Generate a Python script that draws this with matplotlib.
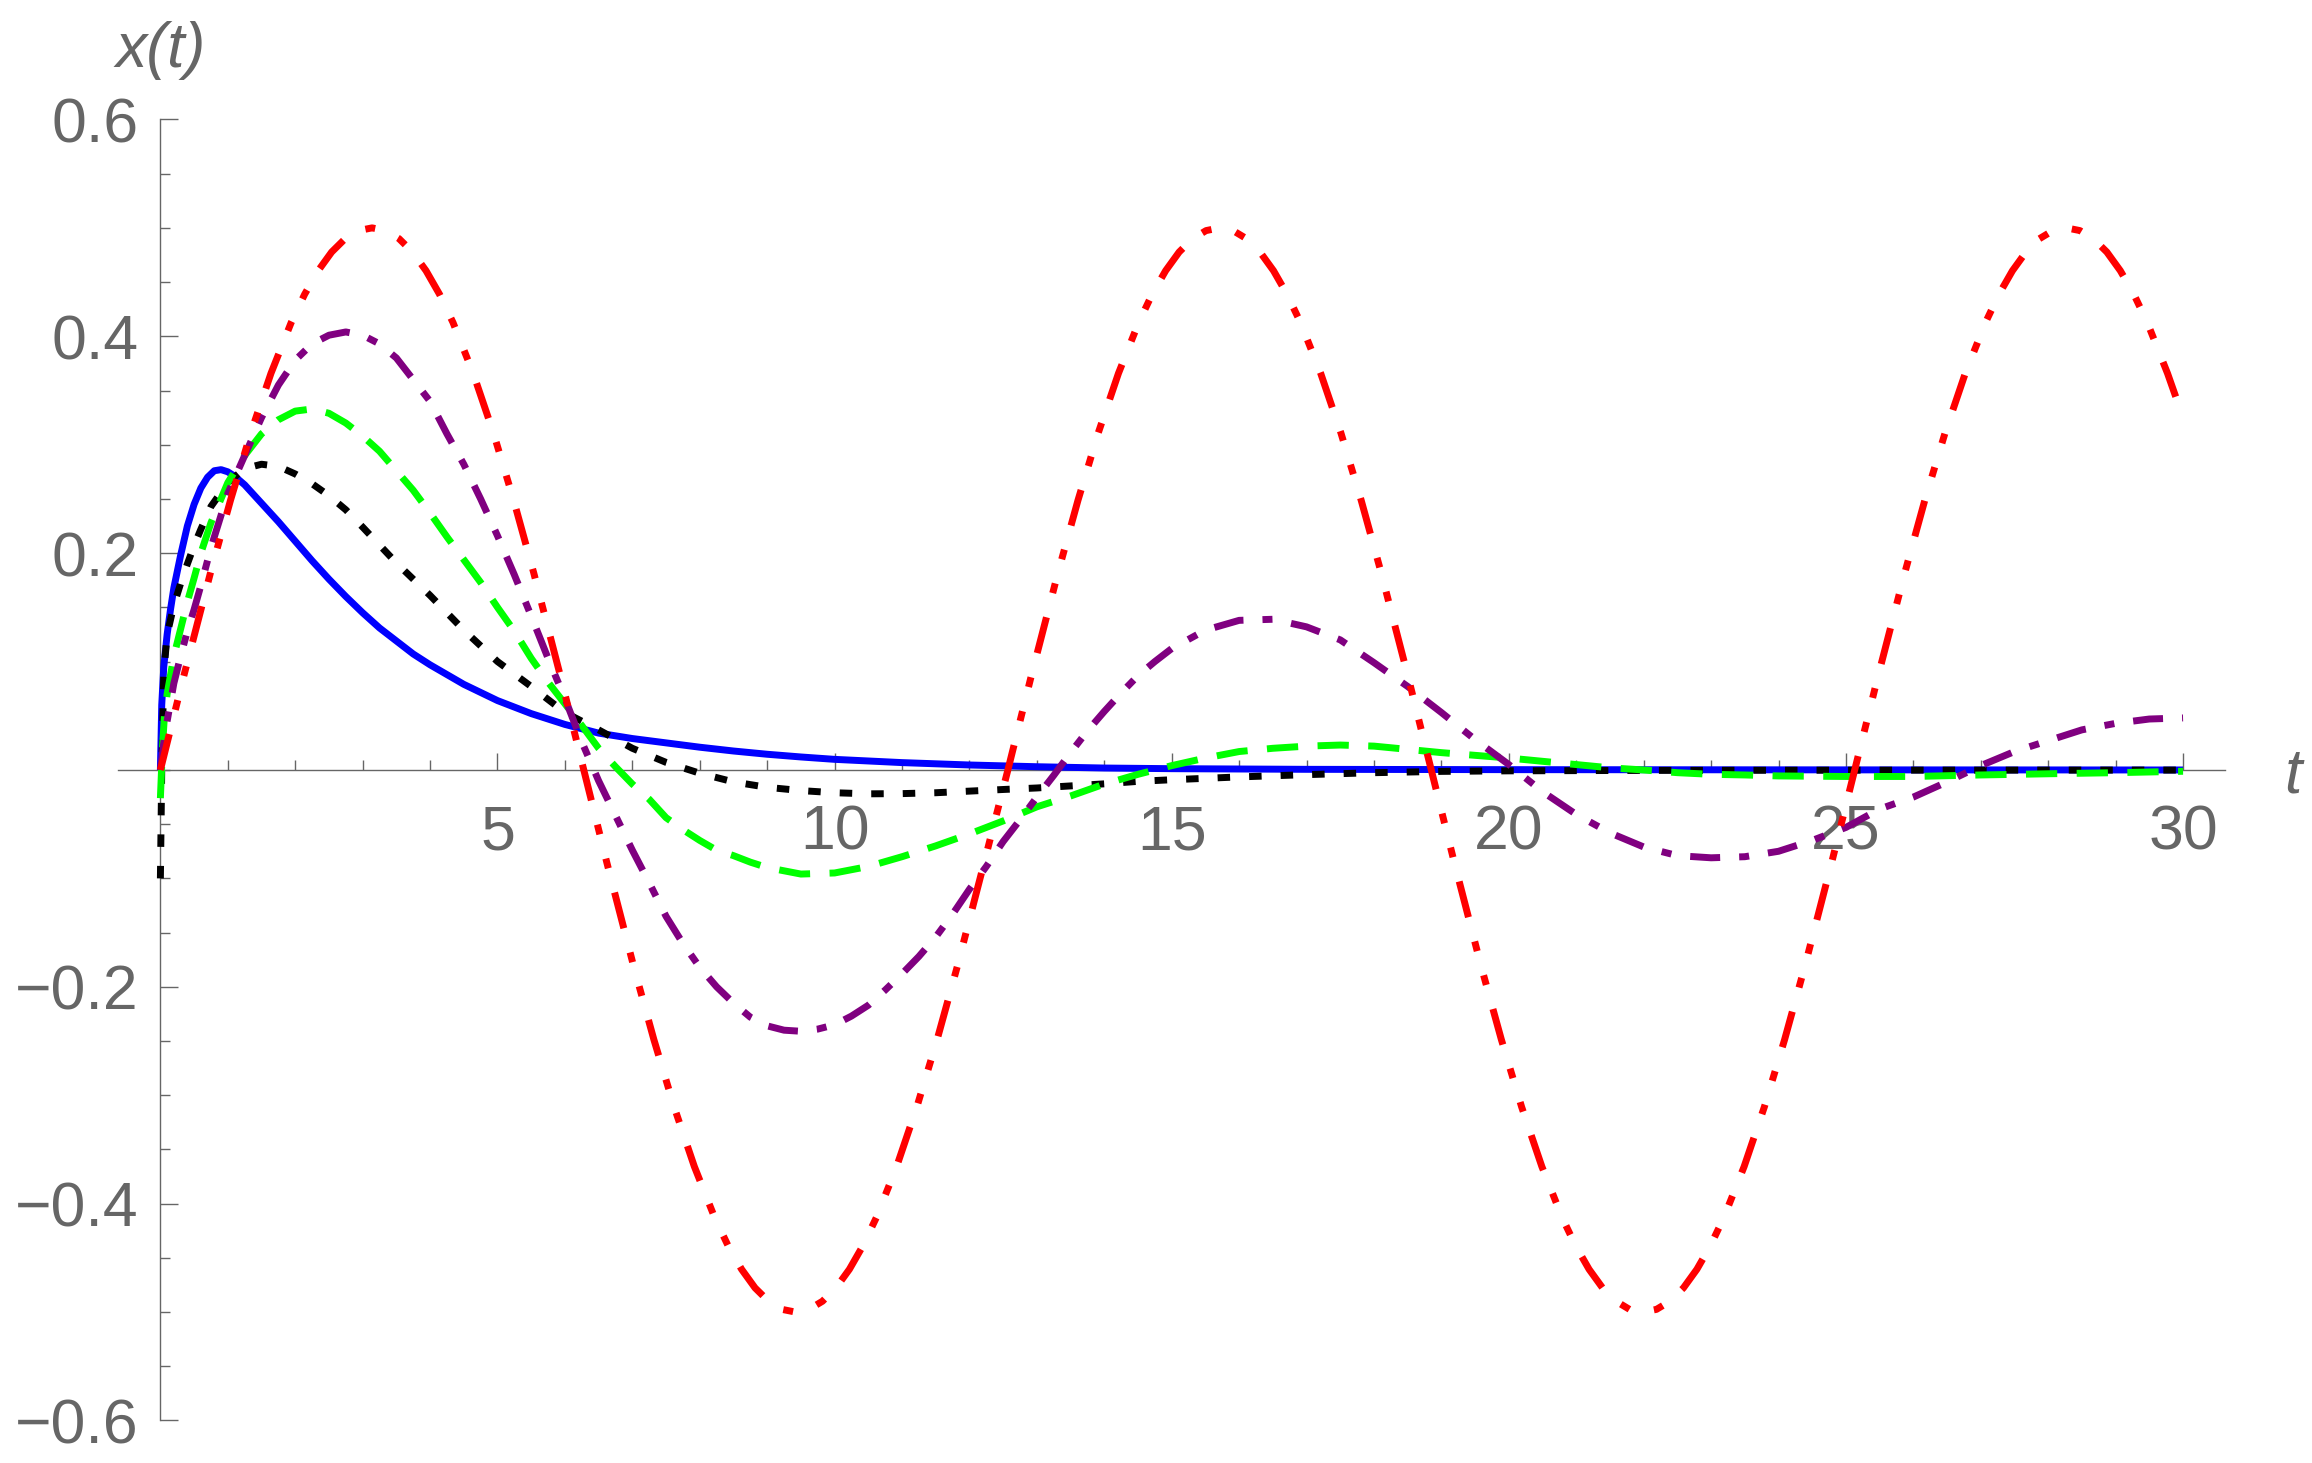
import matplotlib
matplotlib.use("Agg")
import matplotlib.pyplot as plt
from matplotlib.ticker import FixedLocator, MultipleLocator

# values
t_blue = [0, 0.02, 0.05, 0.1, 0.15, 0.2, 0.3, 0.4, 0.5, 0.6, 0.7, 0.8, 0.9, 1.0, 1.1, 1.25,
          1.5, 1.75, 2.0, 2.25, 2.5, 2.75, 3.0, 3.25, 3.5, 3.75, 4.0, 4.5, 5.0, 5.5, 6.0, 6.5,
          7.0, 7.5, 8.0, 8.5, 9.0, 9.5, 10, 11, 12, 13, 14, 15, 17, 20, 25, 30]
x_blue = [0, 0.06, 0.095, 0.125, 0.148, 0.168, 0.198, 0.225, 0.245, 0.26, 0.27, 0.276, 0.277,
          0.275, 0.271, 0.263, 0.246, 0.229, 0.211, 0.193, 0.176, 0.160, 0.145, 0.131, 0.119,
          0.107, 0.097, 0.079, 0.064, 0.052, 0.042, 0.034, 0.029, 0.025, 0.021, 0.0175,
          0.0145, 0.012, 0.0098, 0.0068, 0.0046, 0.003, 0.0018, 0.0012, 0.0006, 0.0003,
          0.0001, 0.0]

t_black = [0, 0.02, 0.05, 0.1, 0.2, 0.3, 0.4, 0.5, 0.6, 0.75, 1.0, 1.25, 1.5, 1.75, 2.0, 2.25,
           2.5, 2.75, 3.0, 3.5, 4.0, 4.5, 5.0, 5.5, 6.0, 6.5, 7.0, 7.5, 8.0, 8.5, 9.0, 9.5,
           10.0, 10.5, 11.0, 11.5, 12.0, 12.5, 13.0, 13.5, 14.0, 14.5, 15.0, 16.0, 17.0, 18.0,
           19.0, 20.0, 22.0, 25.0, 30.0]
x_black = [-0.10, 0.0, 0.09, 0.125, 0.152, 0.172, 0.19, 0.207, 0.222, 0.243, 0.265, 0.278, 0.282,
           0.280, 0.273, 0.264, 0.253, 0.240, 0.224, 0.191, 0.161, 0.129, 0.100, 0.077, 0.053,
           0.037, 0.020, 0.007, -0.003, -0.011, -0.016, -0.019, -0.021, -0.022, -0.0218, -0.021,
           -0.0195, -0.018, -0.0166, -0.0147, -0.0128, -0.0105, -0.009, -0.0064, -0.0043,
           -0.0025, -0.0013, -0.0008, -0.0004, -0.0002, -0.0001]

t_green = [0, 0.03, 0.06, 0.1, 0.2, 0.3, 0.4, 0.5, 0.6, 0.75, 1.0, 1.25, 1.5, 1.75, 2.0, 2.25,
           2.5, 2.75, 3.0, 3.25, 3.5, 3.75, 4.0, 4.25, 4.5, 4.75, 5.0, 5.25, 5.5, 5.75, 6.0,
           6.25, 6.5, 6.75, 7.0, 7.25, 7.5, 7.75, 8.0, 8.25, 8.5, 8.75, 9.0, 9.5, 10.0, 10.5,
           11.0, 11.5, 12.0, 12.5, 13.0, 13.5, 14.0, 14.5, 15.0, 15.5, 16.0, 16.5, 17.0, 17.5,
           18.0, 18.5, 19.0, 19.5, 20.0, 20.5, 21.0, 21.5, 22.0, 22.5, 23.0, 23.5, 24.0, 25.0,
           26.0, 27.0, 28.0, 29.0, 30.0]
x_green = [-0.026, 0.02, 0.05, 0.07, 0.105, 0.13, 0.155, 0.177, 0.2, 0.228, 0.265, 0.29, 0.31,
           0.323, 0.331, 0.333, 0.329, 0.320, 0.308, 0.294, 0.276, 0.258, 0.237, 0.215, 0.194,
           0.173, 0.150, 0.128, 0.103, 0.081, 0.061, 0.041, 0.020, 0.003, -0.013, -0.027,
           -0.044, -0.055, -0.065, -0.074, -0.079, -0.085, -0.090, -0.096, -0.095, -0.089,
           -0.080, -0.070, -0.059, -0.047, -0.034, -0.024, -0.013, -0.004, 0.004, 0.011, 0.017,
           0.020, 0.022, 0.023, 0.022, 0.019, 0.016, 0.0135, 0.011, 0.008, 0.005, 0.002, 0.0,
           -0.0025, -0.004, -0.0046, -0.0055, -0.006, -0.006, -0.0046, -0.0035, -0.0025, -0.0012]

t_purple = [0, 0.05, 0.1, 0.2, 0.3, 0.4, 0.5, 0.6, 0.75, 1.0, 1.25, 1.5, 1.75, 2.0, 2.25, 2.5,
            2.75, 3.0, 3.25, 3.5, 3.75, 4.0, 4.25, 4.5, 4.75, 5.0, 5.25, 5.5, 5.75, 6.0, 6.25,
            6.5, 6.75, 7.0, 7.25, 7.5, 7.75, 8.0, 8.25, 8.5, 8.75, 9.0, 9.25, 9.5, 9.75, 10.0,
            10.25, 10.5, 10.75, 11.0, 11.25, 11.5, 11.75, 12.0, 12.25, 12.5, 12.75, 13.0, 13.25,
            13.5, 13.75, 14.0, 14.25, 14.5, 14.75, 15.0, 15.5, 16.0, 16.5, 17.0, 17.5, 18.0,
            18.5, 19.0, 19.5, 20.0, 20.5, 21.0, 21.5, 22.0, 22.5, 23.0, 23.5, 24.0, 24.5, 25.0,
            25.5, 26.0, 26.5, 27.0, 27.5, 28.0, 28.5, 29.0, 29.5, 30.0]
x_purple = [0, 0.025, 0.045, 0.08, 0.105, 0.128, 0.148, 0.17, 0.205, 0.255, 0.29, 0.325, 0.355,
            0.378, 0.393, 0.401, 0.404, 0.401, 0.393, 0.380, 0.360, 0.340, 0.310, 0.282, 0.250,
            0.216, 0.180, 0.142, 0.103, 0.066, 0.026, -0.010, -0.042, -0.074, -0.104, -0.135,
            -0.160, -0.182, -0.200, -0.215, -0.228, -0.236, -0.240, -0.241, -0.239, -0.235,
            -0.227, -0.217, -0.203, -0.188, -0.172, -0.154, -0.133, -0.110, -0.089, -0.066,
            -0.046, -0.025, -0.005, 0.016, 0.036, 0.054, 0.071, 0.087, 0.100, 0.112, 0.129,
            0.138, 0.139, 0.132, 0.120, 0.099, 0.077, 0.053, 0.028, 0.005, -0.020, -0.041,
            -0.058, -0.071, -0.079, -0.081, -0.080, -0.075, -0.065, -0.053, -0.036, -0.025,
            -0.011, 0.004, 0.017, 0.027, 0.037, 0.043, 0.047, 0.048]

t_red = [0, 0.34, 0.74, 1.04, 1.34, 1.64, 1.94, 2.14, 2.34, 2.54, 2.74, 2.94, 3.14, 3.34, 3.54,
         3.74, 3.94, 4.14, 4.34, 4.64, 4.94, 5.24, 5.54, 5.94, 6.28,
         6.62, 7.02, 7.32, 7.62, 7.92, 8.22, 8.42, 8.62, 8.82, 9.02, 9.22, 9.42, 9.62, 9.82,
         10.02, 10.22, 10.42, 10.62, 10.92, 11.22, 11.52, 11.82, 12.22, 12.57,
         12.91, 13.31, 13.61, 13.91, 14.21, 14.51, 14.71, 14.91, 15.11, 15.31, 15.51, 15.71,
         15.91, 16.11, 16.31, 16.51, 16.71, 16.91, 17.21, 17.51, 17.81, 18.11, 18.51, 18.85,
         19.19, 19.59, 19.89, 20.19, 20.49, 20.79, 20.99, 21.19, 21.39, 21.59, 21.79, 21.99,
         22.19, 22.39, 22.59, 22.79, 22.99, 23.19, 23.49, 23.79, 24.09, 24.39, 24.79, 25.13,
         25.47, 25.87, 26.17, 26.47, 26.77, 27.07, 27.27, 27.47, 27.67, 27.87, 28.07, 28.27,
         28.47, 28.67, 28.87, 29.07, 29.27, 29.47, 29.77, 30.0]
x_red = [0, 0.085, 0.1812, 0.2488, 0.3108, 0.3658, 0.4127, 0.4388, 0.4605, 0.4777, 0.49, 0.4975,
         0.5, 0.4975, 0.49, 0.4777, 0.4605, 0.4388, 0.4127, 0.3658, 0.3108, 0.2488, 0.1812,
         0.085, 0,
         -0.085, -0.1812, -0.2488, -0.3108, -0.3658, -0.4127, -0.4388, -0.4605, -0.4777, -0.49,
         -0.4975, -0.5, -0.4975, -0.49, -0.4777, -0.4605, -0.4388, -0.4127, -0.3658, -0.3108,
         -0.2488, -0.1812, -0.085, 0,
         0.085, 0.1812, 0.2488, 0.3108, 0.3658, 0.4127, 0.4388, 0.4605, 0.4777, 0.49, 0.4975,
         0.5, 0.4975, 0.49, 0.4777, 0.4605, 0.4388, 0.4127, 0.3658, 0.3108, 0.2488, 0.1812,
         0.085, 0,
         -0.085, -0.1812, -0.2488, -0.3108, -0.3658, -0.4127, -0.4388, -0.4605, -0.4777, -0.49,
         -0.4975, -0.5, -0.4975, -0.49, -0.4777, -0.4605, -0.4388, -0.4127, -0.3658, -0.3108,
         -0.2488, -0.1812, -0.085, 0,
         0.085, 0.1812, 0.2488, 0.3108, 0.3658, 0.4127, 0.4388, 0.4605, 0.4777, 0.49, 0.4975,
         0.5, 0.4975, 0.49, 0.4777, 0.4605, 0.4388, 0.4127, 0.3658, 0.3251]

x_ticks = [5, 10, 15, 20, 25, 30]
x_tick_labels = ["5", "10", "15", "20", "25", "30"]
y_ticks = [-0.6, -0.4, -0.2, 0.2, 0.4, 0.6]
y_tick_labels = ["\u22120.6", "\u22120.4", "\u22120.2", "0.2", "0.4", "0.6"]

plt.rcParams['font.family'] = ['Liberation Sans', 'DejaVu Sans']
plt.rcParams['lines.scale_dashes'] = False

gray = '#666666'
lw = 5.0

fig = plt.figure(figsize=(23.12, 14.63), dpi=100)
ax = fig.add_axes([0.0510, 0.02905, 0.9113, 0.8893])

ax.plot(t_blue, x_blue, color='#0000FF', lw=lw, solid_capstyle='butt', zorder=3)
ax.plot(t_black, x_black, color='black', lw=lw, linestyle=(0, (9, 13.7)), zorder=4)
ax.plot(t_green, x_green, color='#00FF00', lw=lw, linestyle=(0, (22.5, 14)), zorder=5)
ax.plot(t_purple, x_purple, color='#800080', lw=lw, linestyle=(0, (21.6, 13.7, 7.2, 13.7)), zorder=6)
ax.plot(t_red, x_red, color='#FF0000', lw=lw, linestyle=(0, (26.6, 18, 7.2, 18, 7.2, 18)), zorder=7)

ax.set_xlim(-0.63, 30.62)
ax.set_ylim(-0.6, 0.6)

for side in ['top', 'right']:
    ax.spines[side].set_visible(False)
ax.spines['left'].set_position(('data', 0))
ax.spines['bottom'].set_position(('data', 0))
for side in ['left', 'bottom']:
    ax.spines[side].set_color(gray)
    ax.spines[side].set_linewidth(1.0)
    ax.spines[side].set_zorder(1)

ax.xaxis.set_major_locator(FixedLocator(x_ticks))
ax.set_xticklabels(x_tick_labels)
ax.xaxis.set_minor_locator(MultipleLocator(1))
ax.yaxis.set_major_locator(FixedLocator(y_ticks))
ax.set_yticklabels(y_tick_labels)
ax.yaxis.set_minor_locator(MultipleLocator(0.05))

ax.tick_params(axis='x', which='major', direction='in', length=12.6, width=1.0,
               color=gray, labelcolor=gray, labelsize=45, pad=24)
ax.tick_params(axis='x', which='minor', direction='in', length=6.9, width=1.0, color=gray)
ax.tick_params(axis='y', which='major', direction='in', length=12.6, width=1.0,
               color=gray, labelcolor=gray, labelsize=45, pad=16)
ax.tick_params(axis='y', which='minor', direction='in', length=7.5, width=1.0, color=gray)

ax.text(0, 0.6485, 'x(t)', fontsize=45, style='italic', color=gray,
        ha='center', va='baseline', clip_on=False)
ax.text(31.63, -0.0212, 't', fontsize=45, style='italic', color=gray,
        ha='center', va='baseline', clip_on=False)

fig.savefig('out.png', dpi=100)
